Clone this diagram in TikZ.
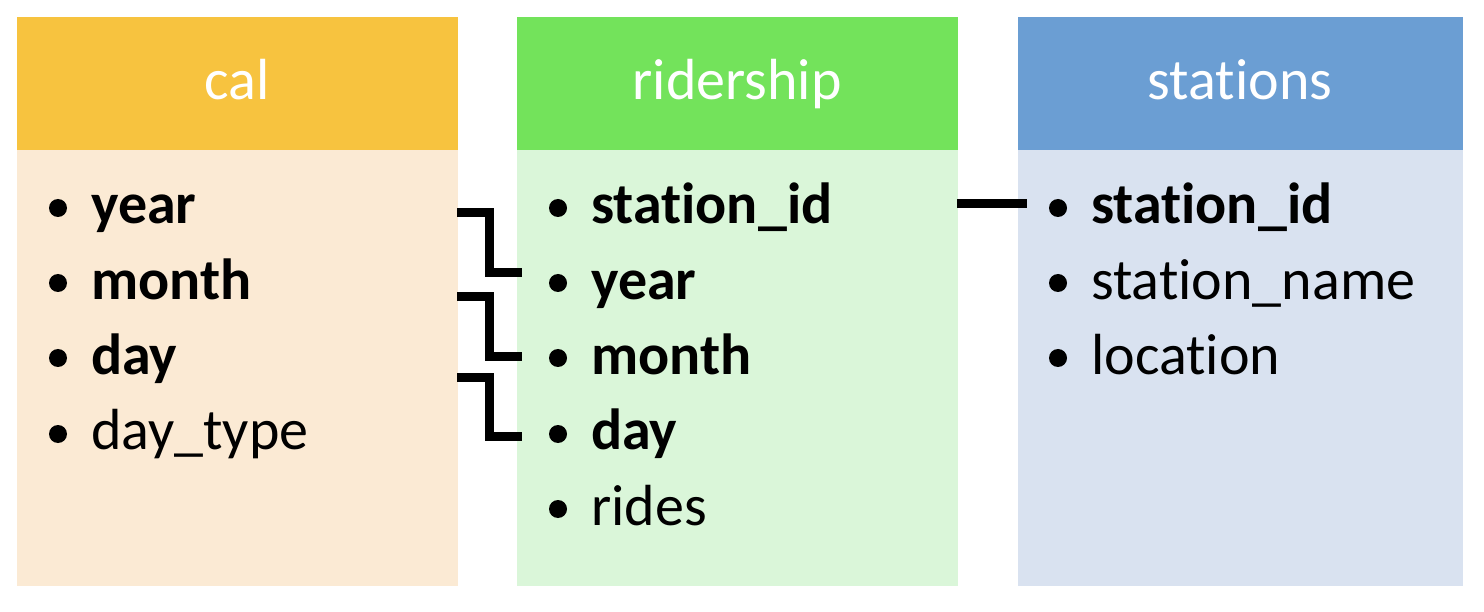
\documentclass[tikz,border=0pt]{standalone}
\usepackage{fontspec}
\setmainfont{Carlito}[Ligatures={NoCommon}]
\definecolor{calhead}{HTML}{F7C33F}
\definecolor{calbody}{HTML}{FBEAD4}
\definecolor{ridhead}{HTML}{73E35B}
\definecolor{ridbody}{HTML}{DAF6D9}
\definecolor{stahead}{HTML}{6B9ED3}
\definecolor{stabody}{HTML}{D9E2F0}
\tikzset{
  head/.style={anchor=north west, inner sep=0pt, minimum width=441pt, minimum height=133pt, text=white, font=\fontsize{58}{70}\selectfont},
  body/.style={anchor=north west, inner sep=0pt, minimum width=441pt, minimum height=436pt},
  field/.style={anchor=base west, inner sep=0pt, font=\fontsize{58}{70}\selectfont},
  keyfield/.style={field, font=\fontsize{58}{70}\selectfont\bfseries},
  bul/.style={circle, fill=black, inner sep=0pt, minimum size=18pt},
  link/.style={line width=9pt, line cap=butt, line join=miter}
}
\begin{document}
\begin{tikzpicture}[x=1pt,y=-1pt]
\useasboundingbox (0,0) rectangle (1484,612);
% boxes
\node[body, fill=calbody] (calb) at (17,150) {};
\node[head, fill=calhead] (calh) at (17,17) {};
\node[body, fill=ridbody] (ridb) at (517,150) {};
\node[head, fill=ridhead] (ridh) at (517,17) {};
\node[body, fill=stabody, minimum width=445pt] (stab) at (1018,150) {};
\node[head, fill=stahead, minimum width=445pt] (stah) at (1018,17) {};
\node[field, text=white, anchor=base] (calt) at (237,100) {cal};
\node[field, text=white, anchor=base] (ridt) at (737,100) {ridership};
\node[field, text=white, anchor=base] (stat) at (1240,100) {stations};
% cal fields
\foreach \y/\n in {208/c1,283/c2,358/c3,434/c4} \node[bul] (b\n) at (58,\y) {};
\node[keyfield] (cy) at (91,224) {year};
\node[keyfield] (cm) at (91,299.5) {month};
\node[keyfield] (cd) at (91,374.5) {day};
\node[field] (ct) at (91,449.5) {day\_type};
% ridership fields
\foreach \y/\n in {208/r1,283/r2,358/r3,434/r4,509/r5} \node[bul] (b\n) at (558,\y) {};
\node[keyfield] (rs) at (591,224) {station\_id};
\node[keyfield] (ry) at (591,299.5) {year};
\node[keyfield] (rm) at (591,374.5) {month};
\node[keyfield] (rd) at (591,449.5) {day};
\node[field] (rr) at (591,525) {rides};
% stations fields
\foreach \y/\n in {208/s1,283/s2,358/s3} \node[bul] (b\n) at (1058,\y) {};
\node[keyfield] (ss) at (1091,224) {station\_id};
\node[field] (sn) at (1091,299.5) {station\_name};
\node[field] (sl) at (1091,374.5) {location};
% connector ends
\coordinate (y1) at (457,213);  \coordinate (y2) at (522,273);
\coordinate (m1) at (457,297);  \coordinate (m2) at (522,357);
\coordinate (d1) at (457,378);  \coordinate (d2) at (522,436);
\coordinate (s1) at (957,204);  \coordinate (s2) at (1027,204);
\draw[link] (y1) -- (489,213) |- (y2);
\draw[link] (m1) -- (489,297) |- (m2);
\draw[link] (d1) -- (489,378) |- (d2);
\draw[link] (s1) -- (s2);
\end{tikzpicture}
\end{document}
